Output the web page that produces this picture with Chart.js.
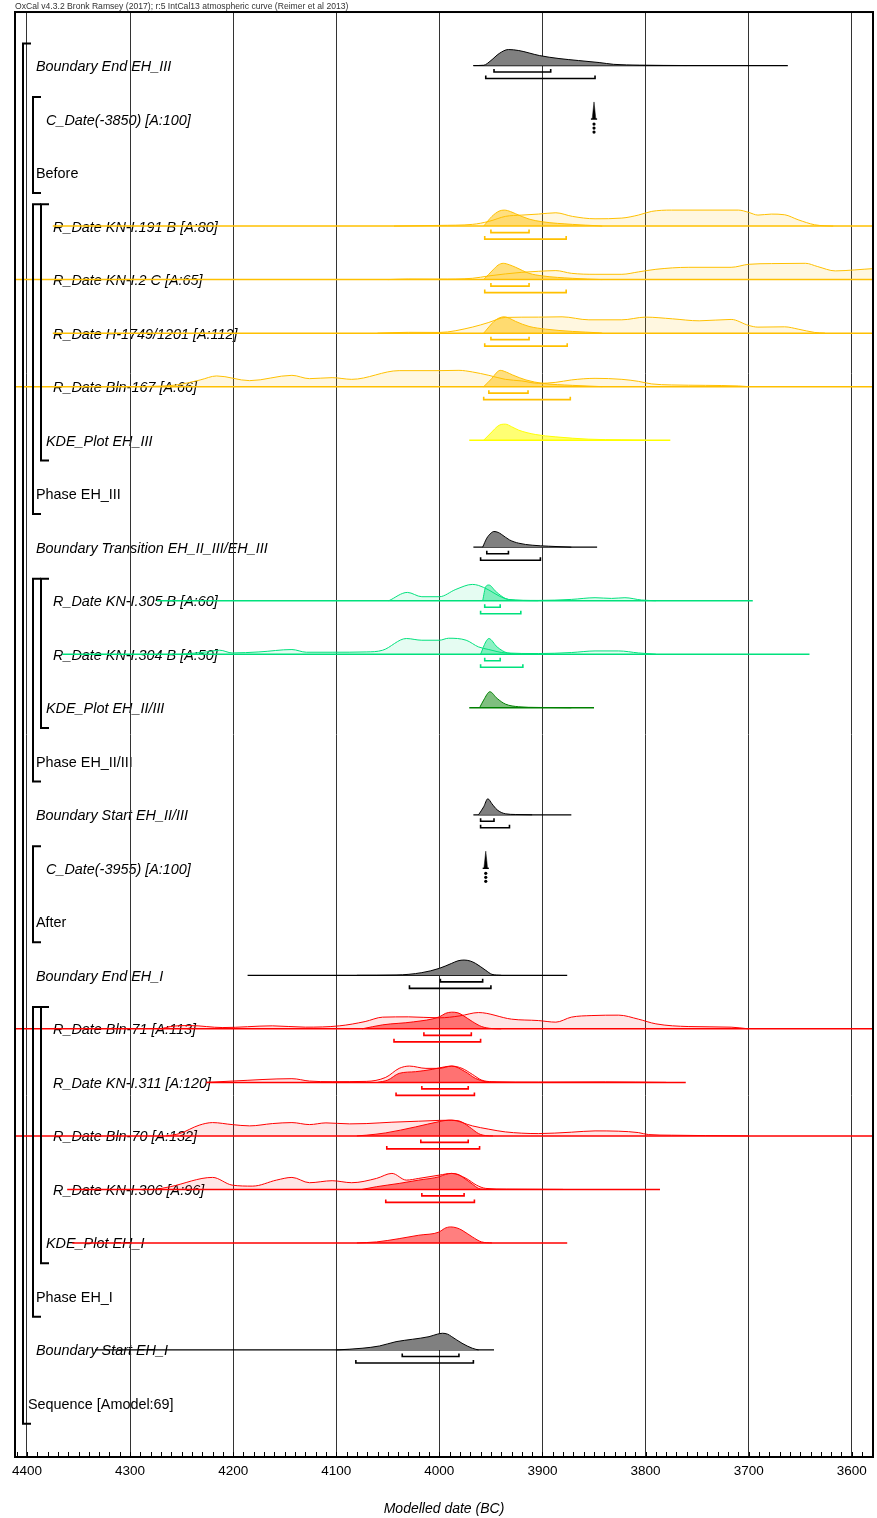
<!DOCTYPE html>
<html>
<head>
<meta charset="utf-8">
<script src="https://cdn.jsdelivr.net/npm/chart.js@4"></script>
<style>
  body { margin: 0; background: #fff; }
  canvas { display: block; }
</style>
</head>
<body>
<canvas id="chart" width="877" height="1518"></canvas>
<script>
// row labels, top to bottom
const rowLabels = [
    'Boundary End EH_III', 'C_Date(-3850) [A:100]', 'Before',
    'R_Date KN-I.191 B [A:80]', 'R_Date KN-I.2 C [A:65]', 'R_Date H-1749/1201 [A:112]', 'R_Date Bln-167 [A:66]',
    'KDE_Plot EH_III', 'Phase EH_III', 'Boundary Transition EH_II_III/EH_III',
    'R_Date KN-I.305 B [A:60]', 'R_Date KN-I.304 B [A:50]', 'KDE_Plot EH_II/III', 'Phase EH_II/III',
    'Boundary Start EH_II/III', 'C_Date(-3955) [A:100]', 'After', 'Boundary End EH_I',
    'R_Date Bln-71 [A:113]', 'R_Date KN-I.311 [A:120]', 'R_Date Bln-70 [A:132]', 'R_Date KN-I.306 [A:96]',
    'KDE_Plot EH_I', 'Phase EH_I', 'Boundary Start EH_I', 'Sequence [Amodel:69]',
];

const tickYears = [4400, 4300, 4200, 4100, 4000, 3900, 3800, 3700, 3600];

// [year BC, relative density]
const endEH3 = [[3967,0],[3957,0.3],[3950,5],[3942,12],[3933,16],[3923,15],[3903,10],[3884,7],[3865,5],[3845,3],[3831,1.2],[3806,0.4],[3760,0]];
const like191 = [[4044,0],[4000,0.7],[3968,1.7],[3952,4.7],[3936,9.7],[3920,11],[3904,12],[3887,13.3],[3871,9.7],[3849,7.3],[3823,8],[3807,11],[3794,14.7],[3775,16],[3710,16],[3700,13.7],[3691,11],[3678,12],[3665,11.3],[3652,6.3],[3636,1.3],[3626,0.3],[3618,0]];
const post191 = [[3957,0],[3949,9.7],[3942,15],[3937,16],[3931,14.5],[3926,12.3],[3913,7],[3900,4.3],[3871,1.7],[3846,0.3],[3842,0]];
const like2C = [[4050,0],[4030,0.6],[4000,0.5],[3968,1.3],[3952,3.7],[3936,5.7],[3920,7.3],[3904,8.3],[3887,9],[3872,6.3],[3849,5.3],[3823,5.3],[3807,7.7],[3790,10.3],[3758,12.3],[3717,12.3],[3700,15.3],[3678,16],[3645,16.3],[3633,13],[3616,8.7],[3597,9.7],[3579,11],[3560,11.5]];
const post2C = [[3957,0],[3948,9.7],[3943,14.5],[3938,16.3],[3932,14.8],[3926,12.3],[3913,6.3],[3900,3.7],[3871,1.3],[3842,0]];
const like1749 = [[4060,0],[4030,0.8],[4000,0.7],[3968,6],[3952,10.7],[3936,15.7],[3904,16],[3881,16.3],[3855,13.3],[3823,13.3],[3800,16],[3774,14.3],[3748,12.3],[3717,13.7],[3700,7.7],[3691,6],[3665,6.3],[3652,4],[3636,0.7],[3626,0]];
const post1749 = [[3957,0],[3947,11.7],[3942,15.2],[3937,16.3],[3932,14.8],[3926,11.7],[3913,6.7],[3897,4],[3871,1.7],[3845,0.3],[3842,0]];
const like167 = [[4291,0],[4255,1.7],[4232,6.7],[4216,10.7],[4184,6],[4143,11.3],[4126,8],[4104,9],[4085,7.3],[4039,16],[4000,16],[3981,16.3],[3968,14.7],[3952,11.3],[3936,7.3],[3920,5.7],[3904,3.3],[3887,4.3],[3872,6.7],[3849,8.3],[3823,7.3],[3807,5.3],[3794,2.7],[3775,1.7],[3742,1.3],[3710,0.7],[3700,0]];
const post167 = [[3957,0],[3949,8.3],[3945,13.5],[3941,16.3],[3935,14.5],[3929,11.7],[3916,6.7],[3900,3.3],[3871,1.3],[3842,0]];
const kdeEH3 = [[3957,0],[3949,8.3],[3944,13.5],[3940,15.7],[3936,16],[3930,13.5],[3923,10],[3907,5.7],[3887,3.3],[3855,1],[3823,0.3],[3800,0]];
const transEH23 = [[3958,0],[3954,9],[3950,14],[3947,15.7],[3943,14.8],[3940,13],[3932,7.3],[3923,4],[3910,2],[3894,1],[3872,0]];
const like305 = [[4049,0],[4031,8.3],[4017,4],[4000,4],[3984,11.3],[3968,16.3],[3962,15.3],[3952,10.7],[3942,4.7],[3933,1.3],[3904,0.3],[3872,1.3],[3849,3],[3833,2.3],[3820,3],[3804,0.7],[3790,0]];
const post305 = [[3958,0],[3955,14],[3952,15.7],[3945,9],[3936,2.3],[3923,0.3],[3904,0]];
const like304 = [[4250,0],[4226,2.3],[4213,4],[4201,1.3],[4175,2.3],[4143,4.7],[4129,2],[4104,2],[4071,2.3],[4055,4],[4032,15.7],[4017,14],[4000,14],[3991,16],[3974,14],[3962,7.3],[3952,4.7],[3936,1.3],[3904,0.7],[3872,1.7],[3849,3.3],[3826,3.3],[3807,1.3],[3790,0]];
const post304 = [[3960,0],[3955,12.3],[3952,15.7],[3944,7.3],[3934,1.3],[3919,0]];
const kdeEH23 = [[3961,0],[3957,7.7],[3951,16],[3944,9.3],[3936,3.7],[3923,1],[3904,0.3],[3872,0]];
const startEH23 = [[3962,0],[3957,8],[3953,16],[3949,11],[3944,5],[3936,1],[3926,0.3],[3910,0]];
const endEH1 = [[4080,0],[4042,0.3],[4017,2.7],[4000,7],[3988,12],[3982,14.5],[3976,15.3],[3970,14.3],[3965,12],[3955,5],[3949,1],[3940,0]];
const like71 = [[4270,0],[4261,2.3],[4242,3.3],[4210,1.3],[4162,3],[4130,1.7],[4097,3],[4072,7.3],[4055,11.7],[4030,12],[4000,11],[3980,13],[3962,16.3],[3930,9.7],[3904,8.3],[3887,6.7],[3872,11.7],[3852,13.3],[3826,13.7],[3807,9.7],[3790,5],[3758,2.3],[3717,1.7],[3700,0]];
const post71 = [[4075,0],[4055,4],[4025,7],[4000,12],[3994,15.5],[3988,16.7],[3982,16],[3978,14],[3968,7.3],[3959,2.3],[3949,0.3],[3940,0]];
const like311 = [[4226,0],[4201,1.3],[4143,3.7],[4126,1.3],[4104,0.7],[4071,1],[4052,5],[4039,14],[4029,16.3],[4013,14],[4000,14],[3988,16.3],[3978,14],[3968,8],[3959,2.3],[3949,0.7],[3904,0.3],[3839,0.5],[3780,0]];
const post311 = [[4060,0],[4050,2.3],[4039,9],[4023,10.7],[4007,13],[3995,15.5],[3988,16.3],[3975,10.7],[3965,4],[3955,0.7],[3945,0]];
const like70 = [[4265,0],[4252,2.3],[4233,10.7],[4220,13.3],[4201,11.3],[4184,10],[4162,12.3],[4143,13.3],[4126,11.3],[4110,13],[4087,12],[4071,12.3],[4046,13.7],[4020,14.7],[4000,15.5],[3988,15.7],[3968,10],[3952,6.7],[3936,4],[3904,2.3],[3872,3.7],[3849,5],[3826,4.7],[3807,3.3],[3797,1.3],[3775,0.7],[3742,0.3],[3700,0]];
const post70 = [[4080,0],[4071,0.7],[4052,3],[4023,9],[4000,14.3],[3991,15.7],[3981,15],[3971,9],[3962,2.3],[3955,0.3],[3948,0]];
const like306 = [[4275,0],[4261,2.7],[4220,12],[4201,4.3],[4181,3.3],[4158,9.3],[4143,12],[4126,6.7],[4104,8.7],[4085,6.7],[4061,11],[4046,16],[4032,9.3],[4020,11],[4000,14.3],[3988,16],[3974,11],[3964,4.3],[3955,1],[3935,0.3],[3880,0]];
const post306 = [[4075,0],[4061,2.7],[4039,6],[4020,9.3],[4000,12.7],[3994,15],[3988,16],[3982,15],[3978,12.7],[3968,5.3],[3962,1],[3955,0]];
const kdeEH1 = [[4080,0],[4061,1],[4039,4.3],[4020,7.7],[4000,11],[3995,14.5],[3989,16],[3983,15],[3978,12.7],[3968,6],[3959,1],[3949,0]];
const startEH1 = [[4100,0],[4075,1.7],[4058,4],[4042,8.3],[4026,10.7],[4010,13.3],[4002,15.8],[3997,16.7],[3992,15.8],[3988,13.3],[3978,6.7],[3968,1.7],[3962,0]];

// [row, from, to] in years BC
const baselineSpans = [
    [0, 3967, 3662], [3, 4375, 3560], [4, 4420, 3560], [5, 4375, 3560], [6, 4420, 3560], [7, 3971, 3776],
    [9, 3967, 3847], [10, 4274, 3696], [11, 4366, 3641], [12, 3971, 3850], [14, 3967, 3872],
    [17, 4186, 3876], [18, 4420, 3560], [19, 4226, 3761], [20, 4420, 3560], [21, 4361, 3786],
    [22, 4356, 3876], [24, 4334, 3947],
];
const range68 = [
    [0, 3947, 3892], [3, 3950, 3913], [4, 3950, 3913], [5, 3950, 3913], [6, 3952, 3914],
    [9, 3954, 3933], [10, 3956, 3941], [11, 3956, 3941], [14, 3960, 3947], [17, 3999, 3958],
    [18, 4015, 3969], [19, 4017, 3972], [20, 4018, 3972], [21, 4017, 3976], [24, 4036, 3981],
];
const range95 = [
    [0, 3955, 3849], [3, 3956, 3877], [4, 3956, 3877], [5, 3956, 3876], [6, 3957, 3873],
    [9, 3960, 3902], [10, 3960, 3921], [11, 3960, 3919], [14, 3960, 3932], [17, 4029, 3950],
    [18, 4044, 3960], [19, 4042, 3966], [20, 4051, 3961], [21, 4052, 3966], [24, 4081, 3967],
];
// [row, year] of C_Date constraints
const cDates = [[1, 3850], [15, 3955]];
// [first row, last row, nesting level]
const groups = [[0, 25, 0], [1, 2, 1], [3, 8, 1], [3, 7, 2], [10, 13, 1], [10, 12, 2], [15, 16, 1], [18, 23, 1], [18, 22, 2]];

const likelihoods = [[3, like191], [4, like2C], [5, like1749], [6, like167], [10, like305], [11, like304], [18, like71], [19, like311], [20, like70], [21, like306]];
const posteriors = [
    [0, endEH3], [3, post191], [4, post2C], [5, post1749], [6, post167], [7, kdeEH3], [9, transEH23],
    [10, post305], [11, post304], [12, kdeEH23], [14, startEH23], [17, endEH1], [18, post71], [19, post311],
    [20, post70], [21, post306], [22, kdeEH1], [24, startEH1],
];

const ROW_PX = 53.5;
const FONT = '"Liberation Sans", Arial, sans-serif';

const palette = {
    black: { line: '#000', like: 'rgba(0,0,0,0.1)', post: '#808080' },
    orange: { line: '#FFC000', like: 'rgba(255,192,0,0.12)', post: 'rgba(255,192,0,0.5)' },
    yellow: { line: '#FFFF00', like: 'rgba(255,255,0,0.1)', post: 'rgba(255,255,0,0.55)' },
    green: { line: 'rgb(0,225,125)', like: 'rgba(0,225,125,0.1)', post: 'rgba(0,225,125,0.45)' },
    dkgreen: { line: '#008000', like: 'rgba(0,128,0,0.1)', post: 'rgba(0,128,0,0.5)' },
    red: { line: '#FF0000', like: 'rgba(255,0,0,0.1)', post: 'rgba(255,0,0,0.5)' },
};

function colourOf(row) {
    if (row >= 3 && row <= 6) return palette.orange;
    if (row == 7) return palette.yellow;
    if (row == 10 || row == 11) return palette.green;
    if (row == 12) return palette.dkgreen;
    if (row >= 18 && row <= 22) return palette.red;
    return palette.black;
}

function line(points, colour, width) {
    return {
        data: points.map(([x, y]) => ({ x, y })),
        borderColor: colour,
        borderWidth: width,
        pointRadius: 0,
        fill: false,
        tension: 0,
    };
}

function area(row, pts, stroke, fillColour) {
    return {
        data: pts.map(([year, d]) => ({ x: year, y: row - d / ROW_PX })),
        borderColor: stroke,
        backgroundColor: fillColour,
        borderWidth: 1,
        pointRadius: 0,
        fill: { value: row },
        cubicInterpolationMode: 'monotone',
    };
}

function bracket(row, from, to, offset, colour) {
    const y = row + offset / ROW_PX;
    const t = y - 3 / ROW_PX;
    return line([[from, t], [from, y], [to, y], [to, t]], colour, 1.6);
}

// painter's order: first pushed is drawn first
const layers = [];
for (const [row, from, to] of baselineSpans) {
    const black = colourOf(row) === palette.black;
    layers.push(line([[from, row], [to, row]], colourOf(row).line, black ? 1.3 : 1.5));
}
for (const [row, pts] of likelihoods) {
    layers.push(area(row, pts, colourOf(row).line, colourOf(row).like));
}
for (const [row, pts] of posteriors) {
    const c = colourOf(row);
    layers.push(area(row, pts, c.line, c.post));
}
for (const [row, from, to] of range68) layers.push(bracket(row, from, to, 6.5, colourOf(row).line));
for (const [row, from, to] of range95) layers.push(bracket(row, from, to, 13, colourOf(row).line));
for (const [row, year] of cDates) {
    layers.push({
        data: [{ x: year + 1.8, y: row }, { x: year, y: row - 0.32 }, { x: year - 1.8, y: row }],
        borderColor: '#000', backgroundColor: '#000', borderWidth: 0.5, pointRadius: 0,
        fill: { value: row }, tension: 0,
    });
    layers.push(line([[year + 3, row], [year - 3, row]], '#000', 1.4));
    layers.push({
        data: [5, 9, 13].map(d => ({ x: year, y: row + d / ROW_PX })),
        showLine: false, pointRadius: 1.6, pointBackgroundColor: '#000', pointBorderWidth: 0,
    });
}
const datasets = layers.reverse();

const structure = {
    id: 'structure',
    beforeDraw(chart) {
        const { ctx, chartArea, scales: { y } } = chart;
        ctx.save();
        ctx.textBaseline = 'middle';
        ctx.fillStyle = '#000';
        rowLabels.forEach((text, row) => {
            let indent = 21;
            let italic = true;
            if (text.startsWith('R_Date')) indent = 38;
            else if (text.startsWith('C_Date') || text.startsWith('KDE')) indent = 31;
            else if (text.startsWith('Sequence')) { indent = 13; italic = false; }
            else if (!text.startsWith('Boundary')) italic = false;
            ctx.font = (italic ? 'italic ' : '') + '14.4px ' + FONT;
            ctx.fillText(text, chartArea.left + indent, y.getPixelForValue(row) + 1.5);
        });
        ctx.restore();
    },
    afterDraw(chart) {
        const { ctx, chartArea, scales: { x, y } } = chart;
        ctx.save();
        ctx.strokeStyle = '#000';
        ctx.lineWidth = 2;
        const levelX = [8, 18, 26];
        for (const [first, last, level] of groups) {
            const bx = chartArea.left + levelX[level];
            const top = y.getPixelForValue(first - 0.41);
            const bottom = y.getPixelForValue(last + 0.38);
            ctx.beginPath();
            ctx.moveTo(bx + 8, top);
            ctx.lineTo(bx, top);
            ctx.lineTo(bx, bottom);
            ctx.lineTo(bx + 8, bottom);
            ctx.stroke();
        }
        // minor ticks every 10 years
        ctx.lineWidth = 1;
        ctx.beginPath();
        for (let yr = 3580; yr <= 4410; yr += 10) {
            const px = Math.round(x.getPixelForValue(yr)) + 0.5;
            ctx.moveTo(px, chartArea.bottom);
            ctx.lineTo(px, chartArea.bottom - 5);
        }
        ctx.stroke();
        ctx.lineWidth = 2;
        ctx.strokeRect(chartArea.left, chartArea.top, chartArea.right - chartArea.left, chartArea.bottom - chartArea.top);
        ctx.restore();
    },
};

new Chart(document.querySelector('#chart'), {
    type: 'line',
    data: { datasets },
    options: {
        responsive: false,
        animation: false,
        devicePixelRatio: 1,
        layout: { padding: { left: 15, right: 2, top: 0, bottom: 0 } },
        plugins: {
            legend: { display: false },
            tooltip: { enabled: false },
            title: {
                display: true,
                text: 'OxCal v4.3.2 Bronk Ramsey (2017); r:5 IntCal13 atmospheric curve (Reimer et al 2013)',
                align: 'start',
                color: '#333',
                font: { family: FONT, size: 8.6, weight: 'normal', lineHeight: 1.2 },
                padding: { top: 1.2, bottom: 0.5 },
            },
        },
        scales: {
            x: {
                type: 'linear',
                reverse: true,
                min: 3579.4,
                max: 4411.6,
                afterBuildTicks: scale => { scale.ticks = tickYears.map(value => ({ value })); },
                afterFit: scale => { scale.height = 61; },
                ticks: {
                    color: '#000',
                    font: { family: FONT, size: 13.5 },
                    padding: 6,
                    maxRotation: 0,
                    autoSkip: false,
                    callback: v => String(v),
                },
                grid: { color: '#333', lineWidth: 1, drawTicks: false },
                border: { display: false },
                title: {
                    display: true,
                    text: 'Modelled date (BC)',
                    color: '#000',
                    font: { family: FONT, size: 14, style: 'italic' },
                    padding: { top: 0, bottom: 0 },
                },
            },
            y: {
                type: 'linear',
                display: false,
                reverse: true,
                min: -1,
                max: 26,
            },
        },
    },
    plugins: [structure],
});
</script>
</body>
</html>
